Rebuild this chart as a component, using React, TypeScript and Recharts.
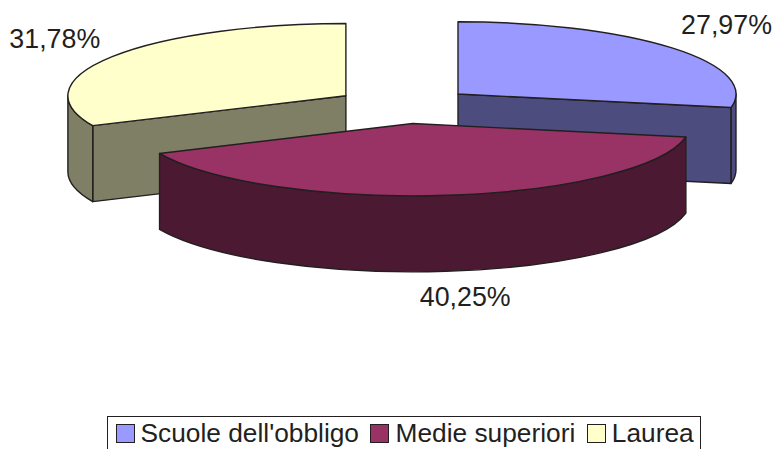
import { Legend, Pie, PieChart } from "recharts";

// legend order, the way the reference lists them
const categories = ["Scuole dell'obbligo", "Medie superiori", "Laurea"];
const shares = [27.97, 40.25, 31.78];
const topColors = ["#9999ff", "#993366", "#ffffcc"];
const sideColors = ["#4c4c7f", "#4c1933", "#7f7f66"];

// back slices first so that the front slice overlaps them
const drawOrder = [2, 0, 1];
const tableData = drawOrder.map((i) => ({
  name: categories[i],
  value: shares[i],
  fill: topColors[i],
  side: sideColors[i],
}));

const INK = "#231f20";
const FONT = "'Liberation Sans', Arial, sans-serif";
const TILT = 0.26; // squash of the ellipse
const DEPTH = 76;
const EXPLODE = 69.6;
// first slice clockwise from the top, so Laurea starts after the first two
const START_ANGLE = 90 - (shares[0] + shares[1]) * 3.6;

// label nudges from the spot on the exploded rim, by category
const labelNudge = [
  [1, -11],
  [11, 8],
  [1, -8],
];

const rad = (d: number) => (d * Math.PI) / 180;

// recharts angle (ccw from east) to clock angle (cw from north)
const clock = (a: number) => 90 - a;

function apex(cx: number, cy: number, midAngle: number) {
  const t = rad(clock(midAngle));
  return {
    x: cx + EXPLODE * Math.sin(t),
    y: cy - EXPLODE * TILT * Math.cos(t),
  };
}

function Slice3D(props: any) {
  const { cx, cy, outerRadius: R, startAngle, endAngle, midAngle, fill, side } = props;
  const a = clock(startAngle);
  const b = clock(endAngle);
  const o = apex(cx, cy, midAngle);
  const ry = R * TILT;
  const pt = (deg: number, drop = 0) => ({
    x: o.x + R * Math.sin(rad(deg)),
    y: o.y - ry * Math.cos(rad(deg)) + drop,
  });
  const p = (q: { x: number; y: number }) => `${q.x.toFixed(2)} ${q.y.toFixed(2)}`;
  const stroke = { stroke: INK, strokeWidth: 1.4, strokeLinejoin: "round" as const };

  const parts = [];

  // radial walls, only the ones facing the viewer
  if (Math.sin(rad(b)) > 0.01) {
    parts.push(
      <path key="endWall" fill={side} {...stroke}
        d={`M${p(o)} L${p(pt(b))} L${p(pt(b, DEPTH))} L${o.x} ${o.y + DEPTH}Z`} />,
    );
  }
  if (Math.sin(rad(a)) < -0.01) {
    parts.push(
      <path key="startWall" fill={side} {...stroke}
        d={`M${p(o)} L${p(pt(a))} L${p(pt(a, DEPTH))} L${o.x} ${o.y + DEPTH}Z`} />,
    );
  }

  // outer wall on the front half of the rim
  for (const shift of [0, 360]) {
    const from = Math.max(a, 90 + shift);
    const to = Math.min(b, 270 + shift);
    if (to > from) {
      parts.push(
        <path key={`rim${shift}`} fill={side} {...stroke}
          d={`M${p(pt(from))} A${R} ${ry} 0 0 1 ${p(pt(to))} L${p(pt(to, DEPTH))} A${R} ${ry} 0 0 0 ${p(pt(from, DEPTH))}Z`} />,
      );
    }
  }

  // top face
  const large = b - a > 180 ? 1 : 0;
  parts.push(
    <path key="top" fill={fill} {...stroke}
      d={`M${p(o)} L${p(pt(a))} A${R} ${ry} 0 ${large} 1 ${p(pt(b))}Z`} />,
  );
  return <g>{parts}</g>;
}

function sliceLabel(props: any) {
  const { cx, cy, outerRadius: R, midAngle, value, name } = props;
  const i = categories.indexOf(name);
  const o = apex(cx, cy, midAngle);
  const t = rad(clock(midAngle));
  const front = Math.cos(t) < 0 ? DEPTH : 0;
  const x = o.x + R * 1.25 * Math.sin(t) + labelNudge[i][0];
  const y = o.y - R * TILT * 1.25 * Math.cos(t) + front + labelNudge[i][1];
  return (
    <text x={x} y={y} textAnchor="middle" dominantBaseline="central"
      fontFamily={FONT} fontSize={26.8} fill={INK}>
      {value.toFixed(2).replace(".", ",") + "%"}
    </text>
  );
}

function LegendBox() {
  return (
    <div
      style={{
        boxSizing: "border-box",
        width: 594.5,
        height: 44,
        border: `1.4px solid ${INK}`,
        display: "flex",
        alignItems: "flex-start",
        paddingLeft: 8,
        paddingTop: 3,
        fontFamily: FONT,
        fontSize: 26.3,
        lineHeight: "26px",
        color: INK,
        whiteSpace: "nowrap",
      }}
    >
      {categories.map((c, i) => (
        <span key={c} style={{ display: "flex", alignItems: "flex-start", marginRight: 11.5 }}>
          <span
            style={{
              display: "inline-block",
              boxSizing: "border-box",
              width: 19,
              height: 19,
              marginTop: 4,
              marginRight: 6,
              background: topColors[i],
              border: `1.4px solid ${INK}`,
            }}
          />
          {c}
        </span>
      ))}
    </div>
  );
}

export default function App() {
  return (
    <div style={{ position: "absolute", left: 0, top: 0, width: 776, height: 449, overflow: "hidden", background: "#fff" }}>
      <PieChart width={776} height={449} margin={{ top: 0, right: 0, bottom: 0, left: 0 }}>
        <Pie
          data={tableData}
          dataKey="value"
          nameKey="name"
          cx={404.4}
          cy={105.6}
          innerRadius={0}
          outerRadius={278}
          startAngle={START_ANGLE}
          endAngle={START_ANGLE - 360}
          stroke="none"
          shape={Slice3D}
          label={sliceLabel}
          labelLine={false}
          isAnimationActive={false}
        />
        <Legend
          content={LegendBox}
          wrapperStyle={{ position: "absolute", left: 106.5, top: 416, width: 594.5, height: 44, bottom: "auto", margin: 0 }}
        />
      </PieChart>
    </div>
  );
}
